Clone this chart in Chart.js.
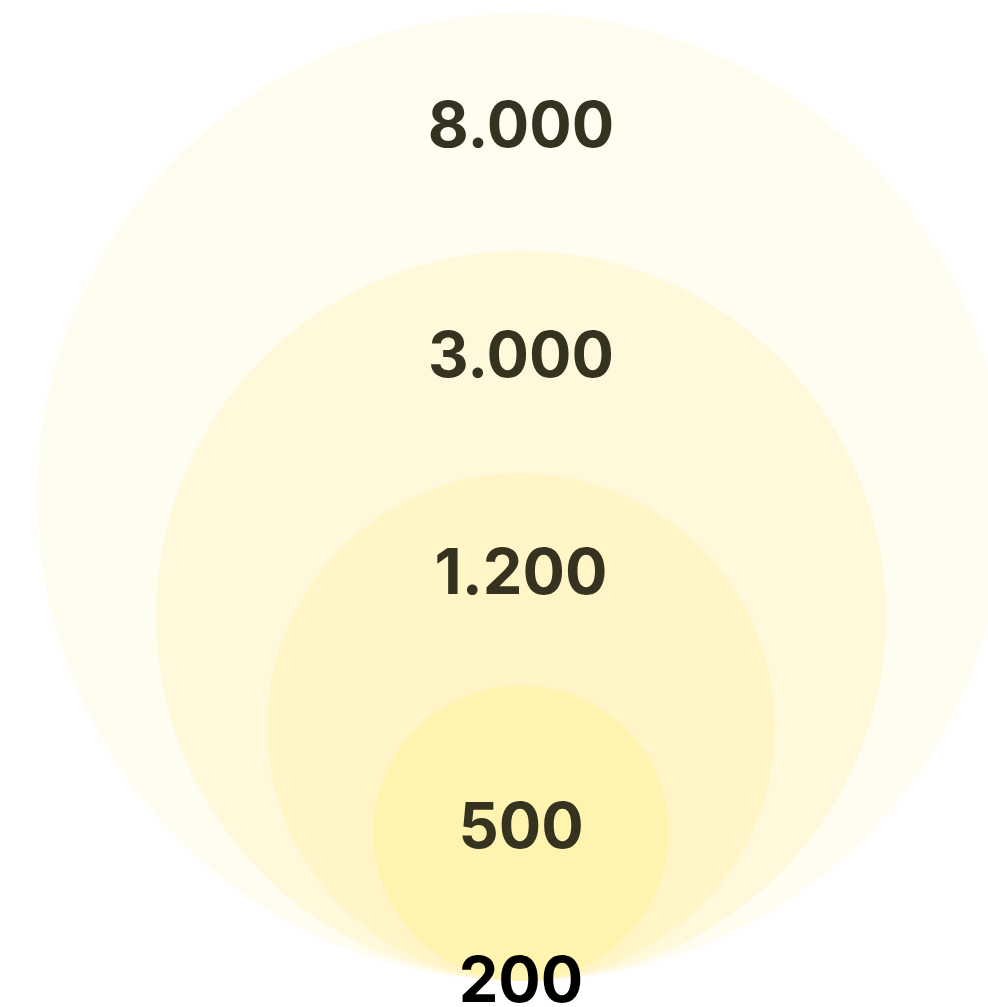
<!DOCTYPE html>
<html>
<head>
<meta charset="utf-8">
<script src="https://cdn.jsdelivr.net/npm/chart.js@4/dist/chart.umd.min.js"></script>
<style>
  html, body { margin: 0; padding: 0; background: #fff; overflow: hidden; }
  canvas { display: block; }
</style>
</head>
<body>
<canvas id="circles" width="988" height="1007"></canvas>
<script>
// values shown in the nested circles, biggest first
const labels = ['8.000', '3.000', '1.200', '500', '200'];
const values = [8000, 3000, 1200, 500, 200];

// circle fills (the smallest value has no circle of its own, only its label)
const fills = ['#FFFDF0', '#FFF8DB', '#FFF5C6', '#FFF3B0'];
const textColors = ['#35321f', '#35321f', '#35321f', '#35321f', '#000000'];

// circles sit on one common baseline, radius grows with log10 of the value
const BASE = 26;
const LOG_K = 279;
const LOG_0 = 2.169;
function radiusFor(v) {
    return LOG_K * (Math.log10(v) - LOG_0);
}

const circleValues = values.slice(0, fills.length);
const bubbles = circleValues.map(v => {
    const r = radiusFor(v);
    return { x: 0, y: BASE + r, r: r };
});

// draws the value labels inside each ring
const ringLabels = {
    id: 'ringLabels',
    afterDatasetsDraw(chart) {
        const ctx = chart.ctx;
        const meta = chart.getDatasetMeta(0);
        const base = chart.scales.y.getPixelForValue(BASE);
        const cx = chart.scales.x.getPixelForValue(0);
        const tops = meta.data.map((pt, i) => pt.y - bubbles[i].r);
        ctx.save();
        ctx.font = '700 63px Inter, "Noto Sans", sans-serif';
        ctx.textAlign = 'center';
        ctx.textBaseline = 'middle';
        labels.forEach((label, i) => {
            let y;
            if (i < tops.length) {
                const next = i + 1 < tops.length ? tops[i + 1] : base;
                y = (tops[i] + next) / 2 - 4;
            } else {
                y = base + 2;
            }
            ctx.fillStyle = textColors[i];
            ctx.fillText(label, cx, y);
        });
        ctx.restore();
    }
};

const chart = new Chart(document.getElementById('circles').getContext('2d'), {
    type: 'bubble',
    data: {
        datasets: [{
            data: bubbles,
            backgroundColor: fills,
            borderWidth: 0,
            hoverBorderWidth: 0,
            clip: false
        }]
    },
    options: {
        responsive: false,
        animation: false,
        events: [],
        // bubbles would otherwise shrink the chart area by their radius
        layout: { padding: 0, autoPadding: false },
        scales: {
            x: { type: 'linear', min: -521, max: 467, display: false },
            y: { type: 'linear', min: 0, max: 1007, display: false }
        },
        plugins: {
            legend: { display: false },
            tooltip: { enabled: false }
        }
    },
    plugins: [ringLabels]
});
</script>
</body>
</html>
